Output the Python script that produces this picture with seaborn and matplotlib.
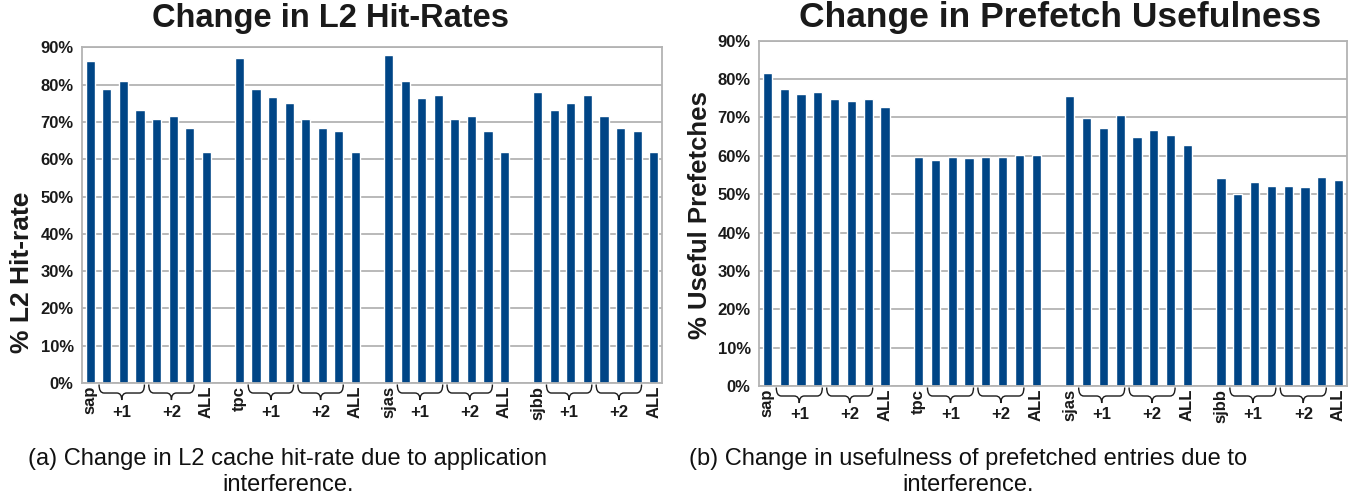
import numpy as np
import pandas as pd
import matplotlib
matplotlib.use("Agg")
import matplotlib.pyplot as plt
from matplotlib.path import Path
from matplotlib.patches import PathPatch
from matplotlib.transforms import blended_transform_factory
from matplotlib.ticker import FuncFormatter
import seaborn as sns

# Benchmarks and the configurations measured for each one
apps = ["sap", "tpc", "sjas", "sjbb"]
config_labels = ["alone", "+1a", "+1b", "+1c", "+2a", "+2b", "+2c", "ALL"]

# L2 hit-rate (%) per benchmark, in the order of config_labels
l2_sap = [86.3, 78.7, 81.1, 73.3, 70.9, 71.7, 68.5, 62.0]
l2_tpc = [87.1, 78.7, 76.6, 75.2, 70.9, 68.5, 67.6, 62.0]
l2_sjas = [88.0, 81.0, 76.4, 77.2, 70.8, 71.6, 67.6, 61.9]
l2_sjbb = [78.0, 73.2, 75.1, 77.2, 71.6, 68.3, 67.6, 61.9]

# Useful prefetches (%) per benchmark
pf_sap = [81.5, 77.3, 76.0, 76.5, 74.7, 74.4, 74.7, 72.6]
pf_tpc = [59.8, 59.0, 59.6, 59.3, 59.8, 59.6, 60.3, 60.1]
pf_sjas = [75.7, 69.9, 67.3, 70.7, 65.0, 66.8, 65.5, 62.9]
pf_sjbb = [54.2, 50.1, 53.2, 52.2, 52.2, 51.9, 54.5, 53.7]

y_ticks = [0, 10, 20, 30, 40, 50, 60, 70, 80, 90]

BAR = "#004586"
GRID = "#b3b3b3"
INK = "#1a1a1a"

sns.set_style("white")
plt.rcParams["font.family"] = ["Liberation Sans", "DejaVu Sans"]

fig = plt.figure(figsize=(13.57, 4.98), dpi=100)
ax_l = fig.add_axes([0.0604, 0.2309, 0.4274, 0.6741])
ax_r = fig.add_axes([0.5593, 0.2249, 0.4333, 0.6934])


def slot_order():
    order = []
    for gi, app in enumerate(apps):
        order += [f"{app}|{c}" for c in config_labels]
        if gi < len(apps) - 1:
            order.append(f"gap{gi}")
    return order


def build_frame(series):
    rows = []
    for app, vals in zip(apps, series):
        for c, v in zip(config_labels, vals):
            rows.append({"slot": f"{app}|{c}", "value": v})
    return pd.DataFrame(rows)


def brace(ax, x0, x1, top_px, mid_px, tip_px):
    h = ax.get_position().height * fig.get_figheight() * fig.dpi
    yt, ym, yp = -top_px / h, -mid_px / h, -tip_px / h
    xm = (x0 + x1) / 2
    r = 0.3
    verts = [(x0, yt), (x0, ym), (x0 + r, ym),
             (xm - r, ym), (xm, ym), (xm, yp),
             (xm, ym), (xm + r, ym),
             (x1 - r, ym), (x1, ym), (x1, yt)]
    codes = [Path.MOVETO, Path.CURVE3, Path.CURVE3,
             Path.LINETO, Path.CURVE3, Path.CURVE3,
             Path.CURVE3, Path.CURVE3,
             Path.LINETO, Path.CURVE3, Path.CURVE3]
    trans = blended_transform_factory(ax.transData, ax.transAxes)
    ax.add_patch(PathPatch(Path(verts, codes), transform=trans, fill=False,
                           edgecolor=INK, lw=1.0, clip_on=False))
    return (x0 + x1) / 2, h


def draw(ax, series):
    order = slot_order()
    df = build_frame(series)
    sns.barplot(data=df, x="slot", y="value", order=order, color=BAR,
                saturation=1, width=0.55, errorbar=None, ax=ax)
    ax.set_xlim(-0.5, len(order) - 0.5)
    ax.set_ylim(y_ticks[0], y_ticks[-1])
    ax.set_yticks(y_ticks)
    ax.yaxis.set_major_formatter(FuncFormatter(lambda v, p: f"{v:.0f}%"))
    ax.yaxis.grid(True, color=GRID, lw=1.3)
    ax.set_axisbelow(True)
    for s in ax.spines.values():
        s.set_color(GRID)
        s.set_linewidth(1.3)
    ax.tick_params(axis="y", length=4, width=1.2, color=GRID, pad=2,
                   labelsize=12, labelcolor=INK)
    for lab in ax.get_yticklabels():
        lab.set_fontweight("bold")

    # rotated labels: benchmark name at the start, ALL at the end of each group
    labels = []
    for name in order:
        if "|" in name:
            app, c = name.split("|")
            labels.append(app if c == "alone" else ("ALL" if c == "ALL" else ""))
        else:
            labels.append("")
    ax.set_xticks(range(len(order)))
    ax.set_xticklabels(labels, rotation=90, fontsize=12, fontweight="bold",
                       color=INK)
    ax.tick_params(axis="x", which="major", length=0, pad=2)
    ax.set_xticks(np.arange(-0.5, len(order), 1), minor=True)
    ax.tick_params(axis="x", which="minor", length=4, width=1.0, color=GRID)
    ax.set_xlabel("")
    ax.set_ylabel("")

    # braces grouping the +1 and +2 configurations
    for name_i, name in enumerate(order):
        if name.endswith("|+1a") or name.endswith("|+2a"):
            tag = "+1" if "+1" in name else "+2"
            xc, h = brace(ax, name_i - 0.47, name_i + 2.27, 1.5, 10, 17)
            ax.text(xc, -29 / h, tag, transform=blended_transform_factory(
                ax.transData, ax.transAxes), ha="center", va="center",
                fontsize=12, fontweight="bold", color=INK)
    return ax


draw(ax_l, [l2_sap, l2_tpc, l2_sjas, l2_sjbb])
draw(ax_r, [pf_sap, pf_tpc, pf_sjas, pf_sjbb])

W, H = 1357, 498
fig.text(330 / W, 1 - 19 / H, "Change in L2 Hit-Rates", ha="center", va="center",
         fontsize=23.5, fontweight="bold", color=INK)
fig.text(1060 / W, 1 - 18 / H, "Change in Prefetch Usefulness", ha="center", va="center",
         fontsize=25.5, fontweight="bold", color=INK)
fig.text(22 / W, 1 - 272 / H, "% L2 Hit-rate", rotation=90, ha="center", va="center",
         fontsize=19, fontweight="bold", color=INK)
fig.text(700 / W, 1 - 215 / H, "% Useful Prefetches", rotation=90, ha="center", va="center",
         fontsize=18.5, fontweight="bold", color=INK)

fig.text(288 / W, 1 - 472 / H,
         "(a) Change in L2 cache hit-rate due to application\ninterference.",
         ha="center", va="center", multialignment="center", fontsize=17,
         linespacing=1.2, color="#111111")
fig.text(968 / W, 1 - 472 / H,
         "(b) Change in usefulness of prefetched entries due to\ninterference.",
         ha="center", va="center", multialignment="center", fontsize=17,
         linespacing=1.2, color="#111111")

fig.savefig("out.png", dpi=100)
